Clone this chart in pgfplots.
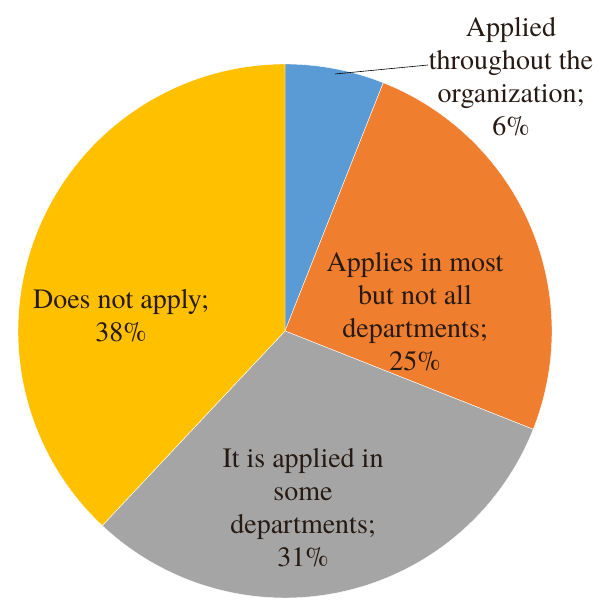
\documentclass[border=0pt]{standalone}
\usepackage{pgfplots}
\pgfplotsset{compat=1.18}
\usepackage{fontspec}
\setmainfont{TeX Gyre Termes}
\definecolor{pblue}{HTML}{5B9BD5}
\definecolor{porange}{HTML}{F07E2F}
\definecolor{pgray}{HTML}{A5A5A5}
\definecolor{pyellow}{HTML}{FFC000}
\definecolor{ptext}{HTML}{261A12}
% shares (percent)
\def\vA{6}\def\vB{25}\def\vC{31}\def\vD{38}
\pgfmathsetmacro{\aA}{90}
\pgfmathsetmacro{\aB}{\aA-3.6*\vA}
\pgfmathsetmacro{\aC}{\aB-3.6*\vB}
\pgfmathsetmacro{\aD}{\aC-3.6*\vC}
\pgfmathsetmacro{\aE}{\aD-3.6*\vD}
\def\cx{285}\def\cy{273}\def\r{267}
\begin{document}
\begin{tikzpicture}
\begin{axis}[
  width=598bp, height=604bp, scale only axis,
  xmin=0, xmax=598, ymin=0, ymax=604,
  hide axis, clip=false,
]
\addplot[draw=none, forget plot] coordinates {(0,0) (598,604)};
\addplot[fill=pblue, draw=white, line width=0.4pt, domain=\aB:\aA, samples=40, variable=\t]
  ({\cx+\r*cos(\t)},{\cy+\r*sin(\t)}) -- (axis cs:\cx,\cy) -- cycle;
\addplot[fill=porange, draw=white, line width=0.4pt, domain=\aC:\aB, samples=80, variable=\t]
  ({\cx+\r*cos(\t)},{\cy+\r*sin(\t)}) -- (axis cs:\cx,\cy) -- cycle;
\addplot[fill=pgray, draw=white, line width=0.4pt, domain=\aD:\aC, samples=100, variable=\t]
  ({\cx+\r*cos(\t)},{\cy+\r*sin(\t)}) -- (axis cs:\cx,\cy) -- cycle;
\addplot[fill=pyellow, draw=white, line width=0.4pt, domain=\aE:\aD, samples=120, variable=\t]
  ({\cx+\r*cos(\t)},{\cy+\r*sin(\t)}) -- (axis cs:\cx,\cy) -- cycle;
\addplot[black, line width=0.6pt] coordinates {(335,530) (428,539)};
\node[align=center, text=ptext, font=\fontsize{28bp}{33bp}\selectfont] at (axis cs:511,527)
  {Applied\\throughout the\\organization;\\6\%};
\node[align=center, text=ptext, font=\fontsize{28bp}{33bp}\selectfont] at (axis cs:415,292)
  {Applies in most\\but not all\\departments;\\25\%};
\node[align=center, text=ptext, font=\fontsize{28bp}{33bp}\selectfont] at (axis cs:303,96)
  {It is applied in\\some\\departments;\\31\%};
\node[align=center, text=ptext, font=\fontsize{28bp}{33bp}\selectfont] at (axis cs:121,288)
  {Does not apply;\\38\%};
\end{axis}
\end{tikzpicture}
\end{document}
